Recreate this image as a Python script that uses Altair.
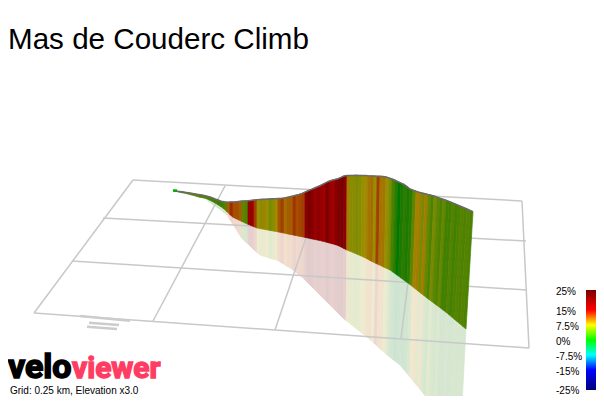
import altair as alt
import pandas as pd

title = ["Mas de Couderc Climb"]
caption = ["Grid: 0.25 km, Elevation x3.0"]

# Projected profile
x_top = [173,176,179,182,185,188,191,194,197,200,203,206,209,212,215,218,221,224,227,230,233,236,239,242,245,248,251,254,257,260,
         263,266,269,272,275,278,281,284,287,290,293,296,299,302,305,308,311,314,317,320,323,326,329,332,335,338,341,344,347,350,
         353,356,359,362,365,368,371,374,377,380,383,386,389,392,395,398,401,404,407,410,413,416,419,422,425,428,431,434,437,440,
         443,446,449,452,455,458,461,464,467,470,473]
y_top = [190.5,191,191.4,191.8,192.3,192.7,193.2,193.7,194.3,194.8,195.3,196,196.8,197.7,199,200,201.2,201.8,202.3,202.1,201.9,201.7,201.4,201.1,200.9,200.7,200.4,200.1,199.8,199.5,
         199.3,199.2,199,198.8,198.7,198.5,198.4,198.1,197.4,196.7,196,195.2,194.5,193.4,192.1,190.8,189.6,188.3,187,185.7,184.2,182.7,181.2,180.2,179.5,178.7,177.4,176,175.6,175.5,
         175.4,175.3,175.4,175.5,175.6,175.8,175.9,176,176.2,176.3,176.5,176.9,178,179,180.2,181.7,183.1,184.5,186.6,189,190.1,191.3,192.2,193,193.7,194.5,195.2,196,197.1,198.2,
         199.2,200.3,201.4,202.6,203.9,205.2,206.5,207.8,209,210.4,211.7]
x_base = [173,176,179,182,185,188,191,194,197,200,203,206,209,212,215,218,221,224,227,230,233,236,239,242,245,248,251,254,257,260,
          263,266,269,272,275,278,281,284,287,290,293,296,299,302,305,308,311,314,317,320,323,326,329,332,335,338,340.9,343.8,346.7,349.6,
          352.5,355.4,358.3,361.2,364.1,367,369.9,372.8,375.7,378.6,381.5,384.4,387.3,390.1,392.9,395.7,398.5,401.3,404.1,406.9,409.7,412.5,415.3,418.1,420.9,423.7,426.5,429.3,432.1,434.9,
          437.7,440.5,443.3,446.1,448.9,451.7,454.5,457.4,460.2,463.1,466]
y_base = [190.8,191.4,192,192.7,193.2,194,194.8,195.5,196.5,197.3,197.8,198.5,199.9,201.3,202.9,204.8,206.7,208.9,211.7,214.8,217.2,218.7,220.1,221.6,223,224.3,225.5,226.8,228,228.6,
          229.1,229.7,230.2,230.8,231.3,231.9,232.5,233.1,233.8,234.4,235,235.6,236.2,236.8,237.4,238,238.7,239.3,239.9,240.5,241.3,242.1,242.9,243.7,244.5,245.5,246.9,248.4,249.9,251.1,
          252.3,253.5,254.7,256,257.3,258.8,260.4,261.9,263.3,264.6,266,267.4,268.7,270.1,272.1,274.1,276.1,278.2,280.2,282.2,284.3,286.6,288.8,291,293.2,295.4,297.6,299.7,301.8,303.9,
          306,308.1,310.2,312.3,314.6,317,319.4,321.8,324.1,326.6,329]
x_shadow = [173,176,179,182,185,188,191,194,197,200,203,206,209,212,215,218,221,224,227,230,233,236,239,242,245,248,251,254,257,260,
            263,266,269,272,275,278,281,284,287,290,293,296,299,302,305,308,311,314,317,320,323,326,329,332,335,338,340.4,343.2,346,348.8,
            351.6,354.4,357.2,360,362.9,365.7,368.5,371.3,374.1,376.9,379.7,382.5,385.3,388,390.7,393.4,396.1,398.8,401.5,404.2,407,409.7,412.4,415.1,417.8,420.5,423.2,425.9,428.7,431.4,
            434.1,436.9,439.6,442.3,445,447.7,450.5,453.3,456,458.8,460]
y_shadow = [190.8,191.4,192,192.7,193.2,194,194.8,195.5,196.5,197.3,197.8,199,201.5,204,206,208,210,212.5,215,219.7,224.4,229,234,238.5,241.5,244,247,250,252.5,255,
            256,257,258,259,259.7,260.6,262.5,264.3,266.2,268,270,272.4,274.8,277.2,280,283,286,289,292,295,298,301,304,307,310,313,315.4,318.2,320.4,322.6,
            324.9,327.1,329.3,331.5,333.8,336,338.3,340.8,343.3,345.8,348.4,350.9,353.4,355.8,357.8,359.9,362,364.1,366.8,370.1,373.5,376.8,380.1,383.4,386.7,390,393.3,396.6,400,403.5,
            407,410.5,413.9,417.3,420.7,424,427.5,431,434.4,437.9,441.7]
grade = [0,2,2,2.5,3,3,3,3.5,3,3,3,2.5,2.5,2,2,1.5,2,3,11,14,12,12,11,3.5,3,16,16,13,7,6,
         8.5,7,5,6,8,11.5,13,10,11,11,13.5,12,12.5,13,18,21,19,15.5,18,16,15,21,16,15,19,20,21,18,9,6,
         6,5.5,6,7,8,9.5,10,7,13,9.5,9.5,7,5.5,2.5,1,0,0.5,1,0.5,1,3.5,8.5,9,5,9,4,2.5,5,3.5,2.5,
         4,2,2,3,2,2.5,3,2.5,3,2.5,2.5]

# Ground grid
grid_x1 = [133,103,72,34,133,225,322,419,522]
grid_y1 = [180,218,261,313,180,186,190,196,201]
grid_x2 = [522,526,527,529,34,153,275,401,529]
grid_y2 = [201,241,290,348,313,321,330,338,348]

# Grey scribble under the grid
mark_x1 = [80,89,87]
mark_y1 = [316,322.7,326.7]
mark_x2 = [130,119,117]
mark_y2 = [320.7,325,329]

# Colour key
key_grades = [25,15,7.5,0,-7.5,-15,-25]
key_labels = ["25%","15%","7.5%","0%","-7.5%","-15%","-25%"]
key_y = [292,312,327,342,357,372,391]
key_colors = ["#7a0000","#ff0000","#ffff00","#00ff00","#00ffff","#0000ff","#00007a"]
ribbon_colors = ["#600000","#a00000","#a09000","#007800","#00a0a0","#0000a0","#000050"]
shadow_colors = ["#dcc8c8","#e8d0d0","#eeecd0","#cde3d2","#cde8e8","#d0d0e8","#c8c8dc"]


def quads(xa, ya, xb, yb):
    rows = []
    for i in range(len(xa) - 1):
        pts = [(xa[i], ya[i]), (xa[i + 1], ya[i + 1]), (xb[i + 1], yb[i + 1]), (xb[i], yb[i])]
        for o, (px_, py_) in enumerate(pts):
            rows.append(dict(i=i, o=o, x=px_, y=py_, g=grade[i]))
    return pd.DataFrame(rows)


ribbon_df = quads(x_top, y_top, x_base, y_base)
shadow_df = quads(x_base, y_base, x_shadow, y_shadow)
prof = pd.DataFrame(dict(x=x_top, y=y_top))
grid = pd.DataFrame(dict(x=grid_x1, y=grid_y1, x2=grid_x2, y2=grid_y2))
scrib = pd.DataFrame(dict(x=mark_x1, y=mark_y1, x2=mark_x2, y2=mark_y2))
key = pd.DataFrame(dict(x=[556] * 7, y=key_y, t=key_labels))

X = alt.Scale(domain=[8, 596], nice=False, zero=False)
Y = alt.Scale(domain=[396, 8], nice=False, zero=False)


def px(f):
    return alt.X(f, type="quantitative", scale=X, axis=None)


def py(f):
    return alt.Y(f, type="quantitative", scale=Y, axis=None)


def polygons(df, colors):
    sc = alt.Scale(domain=key_grades[::-1], range=colors[::-1])
    return alt.Chart(df).mark_line(filled=True, strokeWidth=0.7, interpolate="linear-closed").encode(
        x=px("x"), y=py("y"), detail="i:N", order="o:Q",
        fill=alt.Fill("g:Q", legend=None, scale=sc), stroke=alt.Stroke("g:Q", legend=None, scale=sc))


shadow = polygons(shadow_df, shadow_colors)
grid_l = alt.Chart(grid).mark_rule(strokeWidth=1.5, color="#c8c8c8").encode(
    x=px("x"), y=py("y"), x2="x2", y2="y2")
scrib_l = alt.Chart(scrib).mark_rule(strokeWidth=2.4, color="#cccccc").encode(
    x=px("x"), y=py("y"), x2="x2", y2="y2")
ribbon = polygons(ribbon_df, ribbon_colors)
edge = alt.Chart(prof).mark_line(color="#6a6a6a", strokeWidth=1.5).encode(
    x=px("x"), y=py("y"), order="x:Q")
start = alt.Chart(pd.DataFrame(dict(x=[173], x2=[177], y=[190.5], y2=[190.5]))).mark_rule(
    color="#00b000", strokeWidth=2.4).encode(x=px("x"), y=py("y"), x2="x2", y2="y2")

bar = alt.Chart(pd.DataFrame(dict(x=[586], x2=[596], y=[290], y2=[390]))).mark_rect(
    fill=alt.Gradient(gradient="linear", x1=0, x2=0, y1=0, y2=1,
        stops=[alt.GradientStop(offset=(25 - g) / 50, color=c) for g, c in zip(key_grades, key_colors)])
).encode(x=px("x"), x2="x2", y=py("y"), y2="y2")
key_t = alt.Chart(key).mark_text(align="left", baseline="middle", font="Liberation Sans", fontSize=10, color="#000").encode(
    x=px("x"), y=py("y"), text="t:N")


def text(s, x, y, size, color, font="Liberation Sans", **kw):
    d = pd.DataFrame(dict(x=[x], y=[y], t=[s]))
    return alt.Chart(d).mark_text(align="left", baseline="alphabetic", font=font, fontSize=size, color=color, **kw).encode(
        x=px("x"), y=py("y"), text="t:N")


t_title = text(title[0], 8, 49, 29.6, "#000")
t_cap = text(caption[0], 10, 394, 10, "#000")
t_velo = text("velo", 8, 378, 34, "#000", font="Roboto", fontWeight="bold", stroke="#000", strokeWidth=1.6)
t_view = text("viewer", 72, 378, 30, "#ff3d63", font="Roboto", fontWeight="bold", stroke="#ff3d63", strokeWidth=1.4)

chart = alt.layer(shadow, grid_l, scrib_l, ribbon, edge, start, bar, key_t, t_title, t_cap, t_velo, t_view).resolve_scale(
    color="independent", fill="independent", stroke="independent"
).properties(width=588, height=388, padding=0, autosize=alt.AutoSizeParams(type="none"), background="white"
).configure_view(stroke=None)

chart.save("out.html", embed_options={"renderer": "svg", "actions": False})
